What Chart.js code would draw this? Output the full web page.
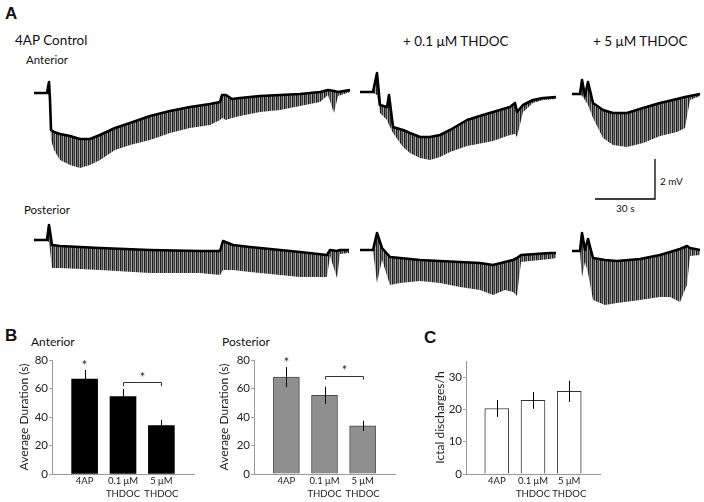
<!DOCTYPE html>
<html>
<head>
<meta charset="utf-8">
<script src="https://cdn.jsdelivr.net/npm/chart.js@4.4.0/dist/chart.umd.min.js"></script>
<style>
  body{margin:0;background:#fff;width:704px;height:502px;position:relative;overflow:hidden;font-family:Lato,"Open Sans",sans-serif;color:#111}
  .t{position:absolute;white-space:nowrap;line-height:1}
  .lbl{position:absolute;font-family:Arial,"Liberation Sans",sans-serif;font-weight:bold;font-size:17px;line-height:1}
  canvas{position:absolute}
</style>
</head>
<body>

<div class="lbl" style="left:5px;top:5px">A</div>
<div class="t" style="left:15px;top:34px;font-size:13.5px">4AP Control</div>
<div class="t" style="left:26px;top:54px;font-size:11.5px">Anterior</div>
<div class="t" style="left:403px;top:35px;font-size:13.5px">+ 0.1 μM THDOC</div>
<div class="t" style="left:593px;top:35px;font-size:13.5px">+ 5 μM THDOC</div>
<div class="t" style="left:24px;top:204px;font-size:11.5px">Posterior</div>
<div class="t" style="left:660px;top:176px;font-size:10px">2 mV</div>
<div class="t" style="left:616px;top:203px;font-size:10px">30 s</div>

<div class="lbl" style="left:5px;top:327px">B</div>
<div class="t" style="left:31px;top:336px;font-size:12px">Anterior</div>
<div class="t" style="left:222px;top:336px;font-size:12px">Posterior</div>
<div class="lbl" style="left:424px;top:329px">C</div>

<canvas id="traces" width="704" height="270" style="left:0;top:50px"></canvas>
<canvas id="antBar" width="215" height="150" style="left:0;top:352px"></canvas>
<canvas id="postBar" width="215" height="150" style="left:200px;top:352px"></canvas>
<canvas id="ictalBar" width="200" height="150" style="left:420px;top:352px"></canvas>

<script>
// ---- field potential traces: time (s), trace level (mV), spike tips (mV) ----
const antCtrlT   = [0, 6.5, 7.5, 8, 8.5, 10, 13, 18, 23, 28, 33, 40.5, 48, 58, 68, 78, 88, 93, 94, 96, 99, 103, 113, 123, 133, 143, 147, 150, 152, 158];
const antCtrlV   = [0, 0, 0.55, -0.35, -1.85, -1.95, -2.05, -2.15, -2.3, -2.3, -2.1, -1.75, -1.5, -1.15, -0.9, -0.7, -0.55, -0.45, -0.1, -0.1, -0.3, -0.25, -0.15, -0.1, -0.05, 0.05, 0.15, 0.1, 0.05, 0.15];
const antCtrlLow = [0, 0, -0.1, -0.35, -2.35, -2.85, -3.35, -3.6, -3.75, -3.6, -3.35, -2.85, -2.6, -2.35, -2, -1.75, -1.6, -1.35, -1.25, -1.35, -1.25, -1.15, -0.95, -0.85, -0.65, -0.45, -0.1, -1, -0.15, 0.05];

const antLoT   = [0, 6.5, 8.5, 10, 13.5, 14.5, 16.5, 21.5, 25, 30, 35, 40, 45, 53.5, 61.5, 66.5, 75, 77.5, 78.5, 81.5, 86.5, 91.5, 98];
const antLoV   = [0, 0, 0.95, -0.65, -0.75, -0.15, -1.75, -1.9, -2.05, -2.25, -2.25, -2.15, -1.9, -1.4, -1.15, -1, -0.75, -0.55, -1, -0.65, -0.4, -0.3, -0.25];
const antLoLow = [0, -0.05, -0.15, -1.05, -1.4, -1.65, -2.05, -2.75, -3.05, -3.3, -3.4, -3.25, -3, -2.7, -2.55, -2.45, -2.15, -2.1, -2.25, -1, -0.55, -0.4, -0.35];

const antHiT   = [0, 4, 5, 6.5, 8, 10.5, 15.5, 20.5, 27.5, 35.5, 44, 52.5, 56.5, 59, 64];
const antHiV   = [0, 0, 0.7, -0.1, 0.6, -0.45, -0.8, -0.95, -0.95, -0.7, -0.45, -0.25, -0.15, -0.1, 0];
const antHiLow = [0, -0.05, -0.1, -0.3, -0.55, -1.2, -2.2, -2.55, -2.65, -2.45, -2.1, -1.9, -1.7, -0.3, -0.1];

const postCtrlT   = [0, 6.5, 7.5, 9, 13, 33, 58, 83, 93, 94.5, 99.5, 108, 123, 133, 146.5, 148, 151.5, 153, 157.5];
const postCtrlV   = [0, 0, 0.75, -0.25, -0.3, -0.4, -0.5, -0.55, -0.55, -0.05, -0.25, -0.35, -0.5, -0.6, -0.75, -0.5, -0.55, -0.5, -0.5];
const postCtrlLow = [0, -0.05, -0.1, -1.4, -1.4, -1.5, -1.65, -1.65, -1.75, -1.5, -1.5, -1.6, -1.75, -1.85, -1.85, -0.8, -1.9, -0.7, -0.65];

const postLoT   = [0, 6.5, 8.5, 11, 15, 20, 30, 40, 50, 60, 66.5, 72.5, 76.5, 78.5, 80.5, 95, 98];
const postLoV   = [0, 0, 0.85, 0.1, -0.35, -0.4, -0.5, -0.55, -0.6, -0.65, -0.75, -0.6, -0.5, -0.4, -0.25, -0.15, -0.15];
const postLoLow = [0, -0.05, -1.65, -0.5, -1.75, -1.65, -1.55, -1.65, -1.85, -2, -2.25, -2, -2.1, -2.3, -0.6, -0.45, -0.4];

const postHiT   = [0, 4, 5, 6.5, 8, 10.5, 16.5, 22.5, 34, 44, 49, 54, 57.5, 59, 64];
const postHiV   = [0, 0, 0.9, 0.05, 0.6, -0.35, -0.45, -0.5, -0.4, -0.2, -0.05, 0.1, 0.25, 0.15, 0.05];
const postHiLow = [0, -0.05, -1.3, -0.55, -1.1, -2.45, -2.7, -2.6, -2.45, -2.3, -2.3, -2.55, -1.7, -0.25, -0.2];

const scaleBarSec = 30;
const scaleBarMv = 2;

// ---- bar charts ----
const groupLabels = [["4AP"], ["0.1 μM", "THDOC"], ["5 μM", "THDOC"]];
const antDuration  = [66.6, 54.3, 34.0];
const antErr       = [6.4, 5.4, 4.0];
const postDuration = [68.0, 55.2, 33.8];
const postErr      = [7.0, 6.0, 3.6];
const ictalRate    = [20.3, 22.8, 25.6];
const ictalErr     = [2.6, 2.6, 3.3];

Chart.defaults.font.family = "Lato, 'Open Sans', sans-serif";
Chart.defaults.color = "#222";
Chart.defaults.animation = false;

// stripe pattern to mimic the dense spikes
function spikePattern(){
  const c = document.createElement("canvas");
  c.width = 4; c.height = 1;
  const g = c.getContext("2d");
  const cols = ["#1e1e1e", "#707070", "#3c3c3c", "#a8a8a8"];
  cols.forEach((col, i) => { g.fillStyle = col; g.fillRect(i, 0, 1, 1); });
  return g.createPattern(c, "repeat");
}
const pattern = spikePattern();

// trace placement on the panel (x: s, y: mV), 2 px per s, 20 px per mV
const traces = [
  {t: antCtrlT,  v: antCtrlV,  low: antCtrlLow,  ox: 17,  oy: -2.15},
  {t: antLoT,    v: antLoV,    low: antLoLow,    ox: 180, oy: -2.1},
  {t: antHiT,    v: antHiV,    low: antHiLow,    ox: 286, oy: -2.2},
  {t: postCtrlT, v: postCtrlV, low: postCtrlLow, ox: 17,  oy: -9.5},
  {t: postLoT,   v: postLoV,   low: postLoLow,   ox: 180, oy: -10},
  {t: postHiT,   v: postHiV,   low: postHiLow,   ox: 286, oy: -10.05}
];

const traceSets = [];
traces.forEach(tr => {
  traceSets.push({
    data: tr.t.map((x, i) => ({x: x + tr.ox, y: tr.v[i] + tr.oy})),
    borderColor: "#000",
    borderWidth: 2.6,
    borderJoinStyle: "round",
    pointRadius: 0,
    fill: false,
    order: 0
  });
  traceSets.push({
    data: tr.t.map((x, i) => ({x: x + tr.ox, y: tr.low[i] + tr.oy})),
    borderColor: "rgba(0,0,0,0)",
    borderWidth: 0,
    pointRadius: 0,
    backgroundColor: pattern,
    fill: "-1",
    order: 1
  });
});

// scale bar
const sbx = 327.5, sby = -7.45;
traceSets.push({
  data: [{x: sbx - scaleBarSec, y: sby}, {x: sbx, y: sby}, {x: sbx, y: sby + scaleBarMv}],
  borderColor: "#000",
  borderWidth: 1.3,
  pointRadius: 0,
  fill: false,
  order: 0
});

new Chart(document.getElementById("traces"), {
  type: "line",
  data: {datasets: traceSets},
  options: {
    responsive: false,
    layout: {padding: 0},
    plugins: {legend: {display: false}, tooltip: {enabled: false}},
    scales: {
      x: {type: "linear", min: 0, max: 352, display: false},
      y: {type: "linear", min: -13.5, max: 0, display: false}
    }
  }
});

// error bars + significance marks
function annotations(errs, marks){
  return {
    id: "annot",
    afterDatasetsDraw(chart){
      const {ctx} = chart;
      const y = chart.scales.y, x = chart.scales.x;
      const ds = chart.data.datasets[0].data;
      ctx.save();
      ctx.strokeStyle = "#000";
      ctx.lineWidth = 1;
      errs.forEach((e, i) => {
        const px = Math.round(x.getPixelForValue(ds[i].x)) + 0.5;
        ctx.beginPath();
        ctx.moveTo(px, y.getPixelForValue(ds[i].y + e));
        ctx.lineTo(px, y.getPixelForValue(ds[i].y - e));
        ctx.stroke();
      });
      ctx.fillStyle = "#222";
      ctx.font = "13px Lato, sans-serif";
      ctx.textAlign = "center";
      ctx.textBaseline = "alphabetic";
      (marks.stars || []).forEach(s => {
        ctx.fillText("*", x.getPixelForValue(s.x), y.getPixelForValue(s.y) + 7);
      });
      if (marks.bracket){
        const b = marks.bracket;
        const x1 = Math.round(x.getPixelForValue(b.from)) + 0.5;
        const x2 = Math.round(x.getPixelForValue(b.to)) + 0.5;
        const yt = Math.round(y.getPixelForValue(b.y)) + 0.5;
        const yb = y.getPixelForValue(b.y - b.leg);
        ctx.strokeStyle = "#333";
        ctx.beginPath();
        ctx.moveTo(x1, yb); ctx.lineTo(x1, yt); ctx.lineTo(x2, yt); ctx.lineTo(x2, yb);
        ctx.stroke();
        ctx.fillText("*", (x1 + x2) / 2, y.getPixelForValue(b.star) + 7);
      }
      ctx.restore();
    }
  };
}

function barChart(id, vals, errs, o){
  return new Chart(document.getElementById(id), {
    type: "bar",
    data: {
      datasets: [{
        data: vals.map((v, i) => ({x: i + 1, y: v})),
        backgroundColor: o.fill,
        borderColor: o.border,
        borderWidth: o.borderWidth,
        barThickness: o.barWidth
      }]
    },
    options: {
      responsive: false,
      layout: {padding: {top: o.padTop, right: o.padRight, left: 0, bottom: 0}},
      plugins: {legend: {display: false}, tooltip: {enabled: false}},
      scales: {
        x: {
          type: "linear", min: 0.15, max: 3.85,
          offset: false,
          grid: {display: false, offset: false, drawTicks: false, tickLength: 0},
          border: {display: true, color: "#9a9a9a", width: 1},
          afterBuildTicks: s => { s.ticks = vals.map((v, i) => ({value: i + 1})); },
          afterFit: s => { s.height = 28; },
          ticks: {
            padding: 1,
            font: {size: 9.5, lineHeight: 1.35},
            maxRotation: 0,
            autoSkip: false,
            callback: v => groupLabels[v - 1]
          }
        },
        y: {
          min: 0, max: o.max,
          grid: {drawOnChartArea: false, drawTicks: true, tickLength: 3, color: "#a0a0a0"},
          border: {display: true, color: "#9a9a9a", width: 1},
          afterFit: s => { s.width = o.axisWidth; },
          ticks: {
            stepSize: o.step, padding: 1,
            font: {size: 11.5},
            callback: v => (v % o.labelStep === 0 ? v : "")
          },
          title: {display: true, text: o.title, font: {size: 12}, padding: {top: o.titlePad, bottom: 0}}
        }
      }
    },
    plugins: [annotations(errs, o.marks)]
  });
}

barChart("antBar", antDuration, antErr, {
  fill: "#000", border: "#000", borderWidth: 0, barWidth: 26,
  padTop: 8, padRight: 21, axisWidth: 52, titlePad: 17,
  max: 80, step: 10, labelStep: 20, title: "Average Duration (s)",
  marks: {stars: [{x: 1, y: 78}], bracket: {from: 2, to: 3, y: 64.8, leg: 3.2, star: 69.7}}
});

barChart("postBar", postDuration, postErr, {
  fill: "#8f8f8f", border: "#4a4a4a", borderWidth: 1, barWidth: 26,
  padTop: 8, padRight: 20, axisWidth: 54, titlePad: 17,
  max: 80, step: 10, labelStep: 20, title: "Average Duration (s)",
  marks: {stars: [{x: 1, y: 80}], bracket: {from: 2, to: 3, y: 69, leg: 2.8, star: 74.6}}
});

barChart("ictalBar", ictalRate, ictalErr, {
  fill: "#fff", border: "#333", borderWidth: 1, barWidth: 24,
  padTop: 9, padRight: 20, axisWidth: 46, titlePad: 13,
  max: 35, step: 5, labelStep: 5, title: "Ictal discharges/h",
  marks: {}
});
</script>
</body>
</html>
